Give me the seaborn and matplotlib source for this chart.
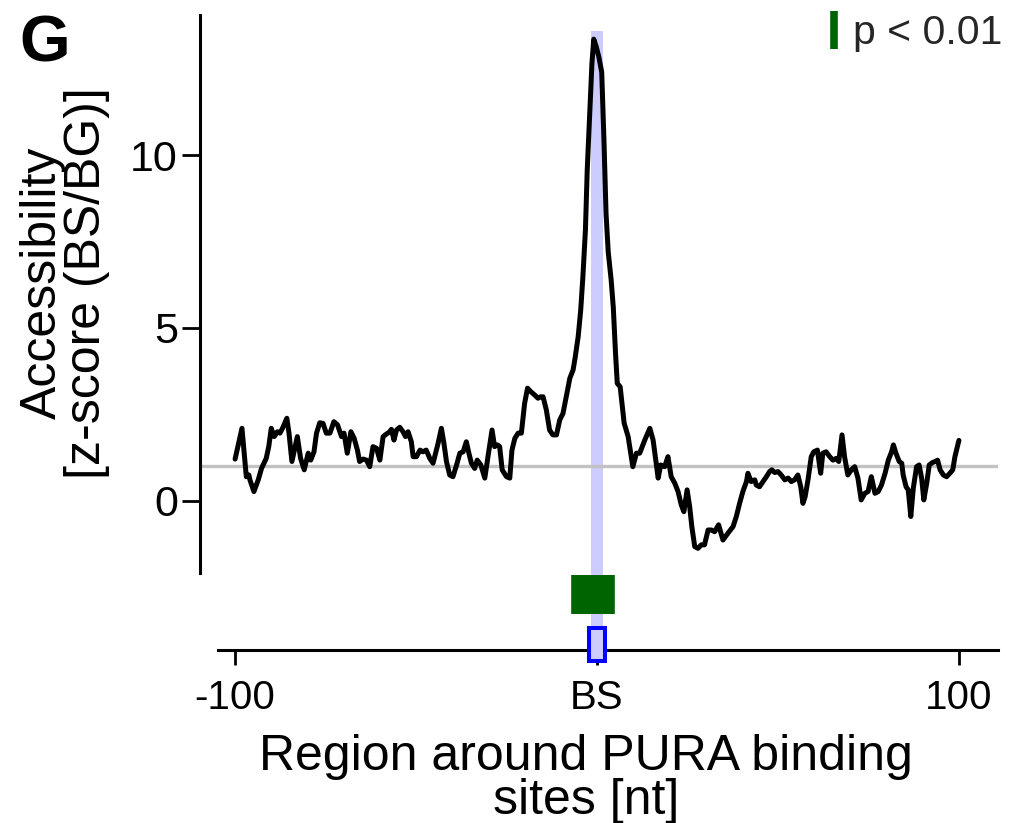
import matplotlib.pyplot as plt
from matplotlib.lines import Line2D
from matplotlib.patches import Rectangle
import seaborn as sns

# accessibility profile around PURA binding sites
position = [
    -100.0, -98.1, -96.9, -96.2, -95.9, -94.8, -93.6, -92.7, -91.4, -90.7,
    -90.0, -89.2, -88.3, -87.6, -86.9, -85.7, -85.1, -84.3, -82.8, -81.9,
    -80.9, -79.8, -79.1, -78.2, -77.5, -76.6, -75.7, -74.8, -73.8, -72.7,
    -71.7, -70.6, -69.9, -69.0, -68.0, -67.1, -66.2, -65.6, -64.6, -63.7,
    -62.8, -61.9, -60.9, -60.0, -59.1, -58.5, -57.3, -56.8, -56.1, -55.4,
    -54.5, -53.6, -52.9, -52.2, -51.3, -50.8, -49.9, -48.9, -48.1, -47.2,
    -46.2, -45.3, -43.9, -43.0, -42.3, -41.6, -40.7, -39.8, -38.8, -37.9,
    -37.0, -36.1, -35.4, -34.7, -33.8, -33.1, -32.1, -31.0, -30.1, -29.0,
    -28.3, -27.5, -26.9, -26.2, -25.0, -24.1, -23.5, -22.7, -21.8, -20.9,
    -20.0, -19.2, -18.3, -17.2, -16.3, -15.6, -14.9, -14.0, -13.1, -12.2,
    -11.2, -10.3, -9.4, -8.5, -7.5, -6.6, -6.0, -5.2, -4.5, -3.9,
    -3.2, -2.7, -2.0, -1.4, -0.9, -0.2, 0.5, 1.3, 1.9, 2.5,
    3.1, 3.9, 4.5, 5.1, 5.6, 6.4, 7.5, 8.6, 9.9, 10.9,
    11.8, 13.2, 14.6, 15.5, 16.9, 17.6, 18.7, 19.6, 20.5, 21.5,
    22.4, 23.3, 24.0, 24.9, 25.6, 26.2, 27.0, 27.9, 28.8, 29.7,
    30.7, 31.6, 32.5, 33.6, 34.8, 36.2, 37.6, 38.5, 39.4, 40.3,
    41.3, 41.7, 42.6, 43.6, 44.0, 44.9, 45.9, 46.8, 47.7, 48.3,
    49.1, 50.0, 50.9, 51.9, 52.8, 53.7, 54.6, 55.5, 56.3, 56.9,
    57.5, 58.3, 59.2, 59.9, 60.9, 61.8, 62.4, 63.3, 64.3, 65.2,
    66.1, 66.8, 67.7, 68.4, 69.3, 70.3, 71.2, 72.1, 73.0, 74.0,
    74.9, 75.8, 76.8, 77.7, 78.6, 79.6, 80.5, 81.4, 81.9, 82.6,
    83.5, 84.2, 84.6, 85.4, 86.0, 86.7, 87.4, 88.3, 89.0, 89.7,
    90.3, 91.1, 91.8, 92.7, 93.4, 94.1, 94.8, 95.7, 96.6, 97.5,
    98.3, 98.9, 100.0,
]
accessibility = [
    1.21, 2.10, 0.70, 0.75, 0.61, 0.27, 0.61, 0.94, 1.23, 1.57,
    2.10, 1.86, 2.00, 1.96, 2.10, 2.39, 1.96, 1.14, 1.86, 1.23,
    0.90, 1.38, 1.18, 1.42, 1.96, 2.26, 2.24, 1.96, 1.96, 2.29,
    2.20, 1.86, 1.96, 1.38, 2.00, 1.81, 1.47, 1.14, 1.21, 1.18,
    0.99, 1.57, 1.52, 1.18, 1.86, 1.91, 2.00, 2.07, 1.76, 2.05,
    2.13, 2.00, 1.86, 2.00, 1.71, 1.28, 1.28, 1.47, 1.42, 1.47,
    1.23, 1.09, 1.67, 2.10, 1.67, 1.14, 0.75, 0.70, 1.04, 1.38,
    1.42, 1.71, 1.38, 1.09, 0.94, 1.18, 1.04, 0.66, 1.30, 2.05,
    1.57, 1.62, 1.57, 0.90, 0.70, 0.66, 1.47, 1.81, 1.96, 1.96,
    2.82, 3.26, 3.16, 3.06, 2.97, 3.01, 3.01, 2.63, 2.05, 1.91,
    1.91, 2.34, 2.53, 3.01, 3.55, 3.79, 4.17, 4.75, 5.52, 6.48,
    7.83, 9.57, 11.20, 12.65, 13.35, 13.13, 12.84, 12.40, 10.50, 8.30,
    7.20, 6.40, 5.60, 4.30, 3.40, 3.30, 2.25, 1.86, 0.99, 1.38,
    1.38, 1.76, 2.10, 1.76, 0.66, 1.04, 0.99, 1.28, 0.70, 0.51,
    0.27, -0.12, -0.31, 0.32, -0.16, -0.74, -1.32, -1.37, -1.27, -1.27,
    -0.84, -0.84, -0.89, -0.69, -1.13, -0.93, -0.74, -0.45, -0.07, 0.27,
    0.56, 0.80, 0.56, 0.61, 0.46, 0.41, 0.56, 0.70, 0.85, 0.90,
    0.82, 0.85, 0.75, 0.61, 0.66, 0.56, 0.61, 0.75, 0.41, -0.07,
    0.12, 0.61, 1.28, 1.42, 1.47, 0.80, 1.38, 1.42, 1.28, 1.18,
    1.23, 1.14, 1.91, 1.28, 0.75, 0.90, 0.99, 0.66, 0.03, 0.22,
    0.27, 0.70, 0.22, 0.27, 0.46, 0.80, 1.18, 1.42, 1.62, 1.38,
    1.14, 1.09, 0.75, 0.41, 0.32, -0.45, 0.37, 0.99, 1.04, 0.66,
    0.03, 0.51, 1.04, 1.11, 1.14, 1.18, 0.90, 0.75, 0.70, 0.80,
    0.90, 1.28, 1.75,
]

# positions with p < 0.01
sig_positions = list(range(-6, 5))
# binding site span (nt)
bs_start, bs_end = -2.2, 2.1
background_level = 1.0

sns.set_theme(style="ticks")
plt.rcParams['font.family'] = ['Liberation Sans', 'DejaVu Sans']

fig = plt.figure(figsize=(10.09, 8.23), dpi=100)
ax = fig.add_axes([0.1982, 0.2102, 0.7909, 0.7716])

ax.set_xlim(-109.7, 110.8)
ax.set_ylim(-4.31, 14.05)

# binding site band
ax.axvspan(-1.7, 1.7, ymin=0, ymax=0.9755, color='#CCCCFF', lw=0, zorder=1)
ax.axhline(background_level, color='#C2C2C2', lw=2.4, zorder=2)

sns.lineplot(x=position, y=accessibility, color='black', lw=3.6, ax=ax, zorder=4)

# significance marks
ax.vlines(sig_positions, -3.27, -2.14, color='#006400', lw=5.5, zorder=5)

# binding site box on the x axis
ax.add_patch(Rectangle((bs_start, -4.62), bs_end - bs_start, 0.95,
                       facecolor='#CCCCFF', edgecolor='#0000FF', lw=2.9,
                       clip_on=False, zorder=6))

ax.spines[['top', 'right']].set_visible(False)
ax.spines['left'].set_bounds(-2.08, 14.05)
ax.spines['bottom'].set_bounds(-104.7, 110.8)
for s in ['left', 'bottom']:
    ax.spines[s].set_linewidth(2.2)
    ax.spines[s].set_color('black')

ax.set_yticks([0, 5, 10])
ax.set_xticks([-100, 0, 100], ['-100', 'BS', '100'])
ax.tick_params(axis='both', labelsize=29, width=2, color='black', labelcolor='black')
ax.tick_params(axis='y', length=13, pad=3, labelsize=31)
ax.tick_params(axis='x', length=11, pad=10)

ax.set_ylabel('Accessibility\n[z-score (BS/BG)]', fontsize=36, linespacing=0.95, color='black')
ax.yaxis.set_label_coords(-0.113, 0.578)
ax.set_xlabel('Region around PURA binding\nsites [nt]', fontsize=36, linespacing=0.93, color='black')
ax.xaxis.set_label_coords(0.4837, -0.1325)

handle = Line2D([], [], color='#006400', marker='|', linestyle='None',
                markersize=27, markeredgewidth=5.5)
ax.legend([handle], ['p < 0.01'], loc='upper right', frameon=False,
          bbox_to_anchor=(1002 / 1009, 1 - 14 / 823), bbox_transform=fig.transFigure,
          fontsize=29.5, handlelength=0.4, handletextpad=0.25,
          borderaxespad=0, borderpad=0)

fig.text(19 / 1009, 1 - 62 / 823, 'G', fontsize=47, fontweight='bold',
         va='baseline', ha='left', color='black')

fig.savefig('out.png', dpi=100)
